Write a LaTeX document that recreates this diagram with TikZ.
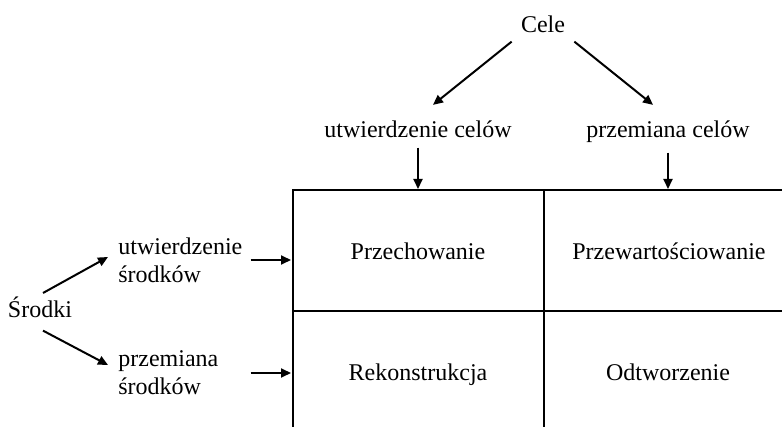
\documentclass[tikz,border=0pt]{standalone}
\usepackage{fontspec}
\setmainfont{Liberation Serif}
\usetikzlibrary{arrows.meta,positioning,calc}
\tikzset{lbl/.style={inner sep=2pt, font=\fontsize{12}{14}\selectfont}}
\tikzset{arr/.style={draw, -{Triangle[length=5pt,width=4.5pt]}, line width=1pt, shorten <=2pt, shorten >=1pt}}
\tikzset{gridline/.style={draw, line width=1.2pt}}

\begin{document}
\begin{tikzpicture}[x=0.5pt, y=-0.5pt]
			\useasboundingbox (0,0) rectangle (782,427);
			\coordinate (gtl) at (293,190);
			\coordinate (gml) at (293,311);
			\coordinate (gtm) at (544,190);
			
			\draw[gridline] (293,427) -- (gtl) -- (782,190);
			\draw[gridline] (gtm) -- (544,427);
			\draw[gridline] (gml) -- (782,311);
			
			\node[lbl, anchor=base] (cele) at (543,33) {Cele};
			\node[lbl, anchor=base] (utc) at (418,138) {utwierdzenie celów};
			\node[lbl, anchor=base] (prc) at (668,138) {przemiana celów};
			
			\node[lbl, anchor=base] (srodki) at (40,318) {Środki};
			\node[lbl, align=left, anchor=west] (usr) at (114,260) {utwierdzenie\\środków};
			\node[lbl, align=left, anchor=west] (psr) at (114,373) {przemiana\\środków};
			
			\node[lbl, anchor=base] (przech) at (418,260) {Przechowanie};
			\node[lbl, anchor=base] (przew) at (669,260) {Przewartościowanie};
			\node[lbl, anchor=base] (rekon) at (418,380) {Rekonstrukcja};
			\node[lbl, anchor=base] (odtw) at (668,380) {Odtworzenie};
			
			\draw[arr, shorten <=3.2pt, shorten >=9.6pt] (cele.south west) -- (utc.north);
			\draw[arr, shorten <=3.2pt, shorten >=9.6pt] (cele.south east) -- (prc.north);
			\draw[arr, shorten <=2.5pt, shorten >=0.5pt] (utc.south) -- (utc.south |- gtl);
			\draw[arr, shorten <=2.5pt, shorten >=0.5pt] (prc.south) -- (prc.south |- gtl);
			
			\draw[arr, shorten <=0pt, shorten >=0pt] ([xshift=1.5pt]srodki.north) -- ([xshift=-3pt,yshift=1.5pt]usr.west);
			\draw[arr, shorten <=0pt, shorten >=0pt] ([xshift=1.5pt,yshift=-4pt]srodki.south) -- ([xshift=-3pt,yshift=4pt]psr.west);
			\draw[arr] (usr.east) -- (usr.east -| gtl);
			\draw[arr] (usr.east |- psr.east) -- (psr.east -| gtl);
		\end{tikzpicture}
\end{document}
